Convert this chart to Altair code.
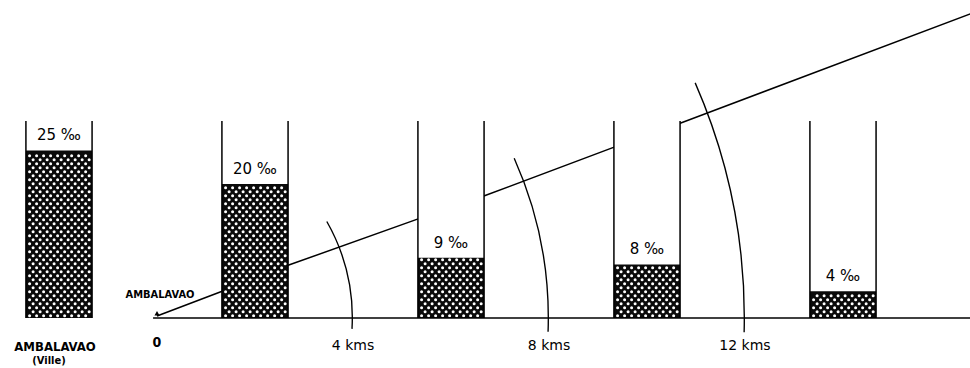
import altair as alt
import pandas as pd

# ---- data ----
bar_km = [-2, 2, 6, 10, 14]            # position of each station (km)
bar_value = [25, 20, 9, 8, 4]          # rate in per mille
bar_label = ["25 ‰", "20 ‰", "9 ‰", "8 ‰", "4 ‰"]

profile_km = [0, 1.33, 2.69, 5.33, 6.67, 9.33, 10.69, 16.6]
profile_level = [0.3, 4.0, 7.9, 14.8, 18.2, 25.5, 29.1, 45.4]

dist_km = [0, 4, 8, 12]
dist_label = ["0", "4 kms", "8 kms", "12 kms"]

arc_km = [4, 8, 12]
arc_top_deg = [29.6, 24.1, 23.6]
arc_bottom_deg = [-3.2, -2.0, -1.4]

# ---- layout constants ----
BAR_HALF = 0.675
FRAME_TOP = 29.4
W, H = 970, 318

bars_df = pd.DataFrame({"km": bar_km, "value": bar_value, "label": bar_label})
bars_df["x1"] = bars_df["km"] - BAR_HALF
bars_df["x2"] = bars_df["km"] + BAR_HALF
bars_df["zero"] = 0.0
bars_df["top"] = FRAME_TOP

profile_df = pd.DataFrame({"km": profile_km, "level": profile_level})
dist_df = pd.DataFrame({"km": dist_km, "label": dist_label})
arcs_df = pd.DataFrame({"km": arc_km, "top_deg": arc_top_deg, "bottom_deg": arc_bottom_deg})
base_df = pd.DataFrame({"a": [-0.08], "b": [16.6], "zero": [0.0]})

xs = alt.Scale(domain=[-3.204, 16.592], nice=False, zero=False)
ys = alt.Scale(domain=[0, 47.46], nice=False, zero=False)

def X(f):
    return alt.X(f, type="quantitative", scale=xs, axis=None)

def Y(f):
    return alt.Y(f, type="quantitative", scale=ys, axis=None)

profile = alt.Chart(profile_df).mark_line(color="black", strokeWidth=1.5).encode(
    x=X("km"), y=Y("level")
)

white = alt.Chart(bars_df).mark_rect(fill="white").encode(
    x=X("x1"), x2="x2", y=Y("zero"), y2="top"
)

fill = alt.Chart(bars_df).mark_rect(fill="#0a0a0a").encode(
    x=X("x1"), x2="x2", y=Y("zero"), y2="value"
)

dots = alt.Chart(bars_df).transform_calculate(
    c="sequence(0, 10)"
).transform_flatten(["c"]).transform_calculate(
    r="sequence(0, ceil(datum.value / 0.597))"
).transform_flatten(["r"]).transform_calculate(
    dot_x="datum.km - 0.6 + datum.c * 0.143 + (datum.r % 2) * 0.0715",
    dot_y="0.35 + datum.r * 0.597",
).transform_filter(
    "datum.dot_x <= datum.km + 0.63 && datum.dot_y <= datum.value - 0.2"
).mark_circle(color="white", size=9, opacity=1).encode(
    x=X("dot_x"), y=Y("dot_y")
)

frame_l = alt.Chart(bars_df).mark_rule(color="black", strokeWidth=1.5).encode(
    x=X("x1"), y=Y("zero"), y2="top"
)
frame_r = alt.Chart(bars_df).mark_rule(color="black", strokeWidth=1.5).encode(
    x=X("x2"), y=Y("zero"), y2="top"
)

baseline = alt.Chart(base_df).mark_rule(color="black", strokeWidth=1.6).encode(
    x=X("a"), x2="b", y=Y("zero")
)

arcs = alt.Chart(arcs_df).transform_calculate(
    t1="(90 - datum.top_deg) * PI / 180",
    t2="(90 - datum.bottom_deg) * PI / 180",
    r_in="datum.km - 0.028",
    cx="0",
    cy="0",
).mark_arc(color="black").encode(
    x=X("cx:Q"),
    y=Y("cy:Q"),
    theta=alt.Theta("t1:Q", scale=None),
    theta2="t2:Q",
    radius=alt.Radius("km:Q", scale=alt.Scale(type="linear", domain=[0, 12], range=[0, 588], zero=True)),
    radius2="r_in:Q",
)

origin = alt.Chart(dist_df.iloc[[0]]).transform_calculate(lv="0.7").mark_point(
    shape="triangle-up", filled=True, color="black", size=26, opacity=1
).encode(x=X("km"), y=Y("lv:Q"))

bar_text = alt.Chart(bars_df).mark_text(
    font="DejaVu Sans", fontSize=15, dy=-15, baseline="middle"
).encode(x=X("km"), y=Y("value"), text="label")

dist_text = alt.Chart(dist_df).transform_filter("datum.km > 0").transform_calculate(lv="0").mark_text(
    font="DejaVu Sans", fontSize=14, dy=28, baseline="middle"
).encode(x=X("km"), y=Y("lv:Q"), text="label")

zero_text = alt.Chart(dist_df).transform_filter("datum.km == 0").transform_calculate(lv="0").mark_text(
    font="DejaVu Sans Condensed", fontWeight="bold", fontSize=14, dy=25, baseline="middle"
).encode(x=X("km"), y=Y("lv:Q"), text="label")

town_small = alt.Chart(dist_df.iloc[[0]]).transform_calculate(lv="0", t="'AMBALAVAO'").mark_text(
    font="DejaVu Sans Condensed", fontWeight="bold", fontSize=11, dx=3, dy=-23, baseline="middle"
).encode(x=X("km"), y=Y("lv:Q"), text="t:N")

ville_df = pd.DataFrame({"km": [bar_km[0]]})
town_big = alt.Chart(ville_df).transform_calculate(lv="0", t="'AMBALAVAO'").mark_text(
    font="DejaVu Sans Condensed", fontWeight="bold", fontSize=13, dx=-4, dy=29, baseline="middle"
).encode(x=X("km"), y=Y("lv:Q"), text="t:N")
ville = alt.Chart(ville_df).transform_calculate(lv="0", t="'(Ville)'").mark_text(
    font="DejaVu Sans Condensed", fontWeight="bold", fontSize=11, dx=-10, dy=43, baseline="middle"
).encode(x=X("km"), y=Y("lv:Q"), text="t:N")

chart = alt.layer(
    profile, white, fill, dots, frame_l, frame_r, baseline, arcs, origin,
    bar_text, dist_text, zero_text, town_small, town_big, ville
).properties(
    width=W, height=H,
    padding={"left": 0, "top": 0, "right": 0, "bottom": 50},
    autosize=alt.AutoSizeParams(type="none"),
    background="white",
).configure_view(stroke=None)

chart.save("out.html", embed_options={"renderer": "svg", "actions": False})
